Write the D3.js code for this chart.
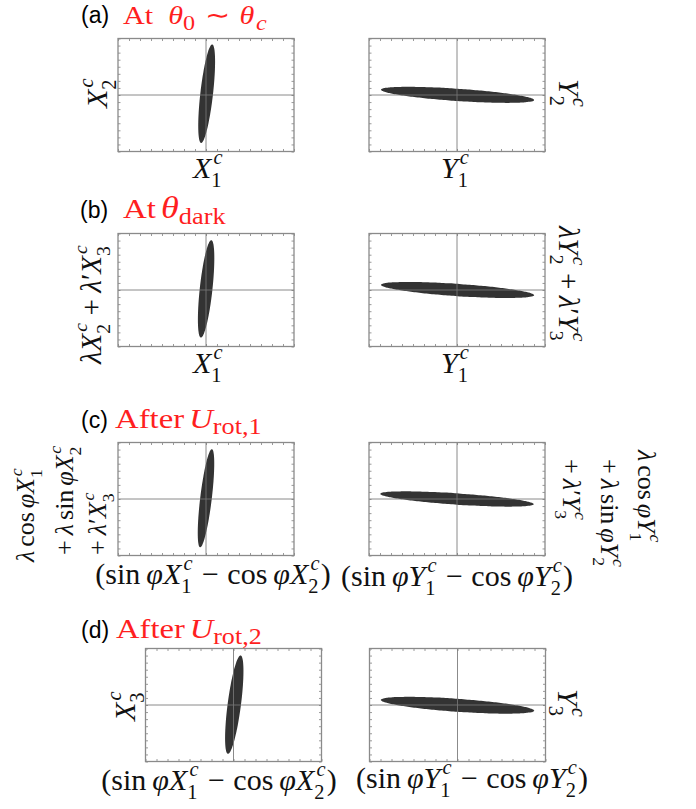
<!DOCTYPE html>
<html>
<head>
<meta charset="utf-8">
<script src="https://cdn.jsdelivr.net/npm/d3@7"></script>
<style>
  body { margin: 0; background: #fff; }
  text { font-family: "Liberation Serif", "Times New Roman", serif; }
</style>
</head>
<body>
<svg id="fig" width="696" height="809"></svg>
<script>
// Quadrature distributions of the cluster modes, four stages (a)–(d),
// X plane on the left and Y plane on the right.
const panelKeys = ["aL", "aR", "bL", "bR", "cL", "cR", "dL", "dR"];
// ellipse centre, tip of the long half-axis (relative to centre) and half-width across it
const ellipseCx = [0.06, 0.05, 0.01, 0.05, 0.00, 0.00, 0.07, 0.00];
const ellipseCy = [0.18, 0.02, 0.16, 0.00, 0.11, 0.00, 0.05, -0.04];
const tipDx     = [0.50, 6.96, 0.47, 6.96, 0.53, 6.97, 0.57, 6.97];
const tipDy     = [6.97, -0.73, 6.90, -0.73, 6.95, -0.73, 6.96, -0.76];
const halfWidth = [0.58, 0.87, 0.58, 0.87, 0.53, 0.80, 0.61, 0.92];
const axisDomain = [-8, 8];
const tickValues = d3.range(-8, 9, 1);

const RED = "#ff1f1f";
const svg = d3.select("#fig");

// ---------- tiny math typesetter: one <text> per label, tspans placed absolutely ----------
const I = (s, k = 1) => ({ t: s, i: true, k });
const R = (s, k = 1) => ({ t: s, k });
const SP = e => ({ sp: e });
const S = (sub, sup, opts = {}) => ({ sub, sup, ...opts });

const probe = svg.append("text").attr("visibility", "hidden");
function measure(str, size, italic) {
  probe.attr("font-size", size).attr("font-style", italic ? "italic" : "normal").text(str);
  return probe.node().getComputedTextLength();
}

function layout(pieces, size) {
  const runs = [];
  let x = 0;
  pieces.forEach(p => {
    if (p.sp !== undefined) { x += p.sp * size; return; }
    if (p.t !== undefined) {
      const sz = size * (p.k || 1);
      runs.push({ s: p.t, x, y: 0, size: sz, italic: !!p.i });
      x += measure(p.t, sz, p.i);
      return;
    }
    const ss = size * (p.scale || 0.68);
    const x0 = x + (p.gap || 0) * size;
    let w = 0;
    if (p.sub) {
      runs.push({ s: p.sub, x: x0, y: p.sup ? 0.3 * size : 0.22 * size, size: ss, italic: !!p.subItalic });
      w = Math.max(w, measure(p.sub, ss, p.subItalic));
    }
    if (p.sup) {
      const dx = 0.07 * size;
      runs.push({ s: p.sup, x: x0 + dx, y: p.sub ? -0.47 * size : -0.42 * size, size: ss, italic: true });
      w = Math.max(w, measure(p.sup, ss, true) + dx);
    }
    x = x0 + w + 0.04 * size;
  });
  return { runs, width: x };
}

// (x, y) is the baseline anchor point; an optional width stretches the run horizontally
function place(pieces, { x, y, size = 30, rotate = 0, anchor = "start", color = "#111", width }) {
  const { runs, width: natural } = layout(pieces, size);
  const sx = width ? width / natural : 1;
  const w = natural * sx;
  const shift = anchor === "middle" ? -w / 2 : anchor === "end" ? -w : 0;
  const t = svg.append("text").attr("fill", color)
    .attr("transform", `translate(${x},${y}) rotate(${rotate}) translate(${shift},0) scale(${sx},1)`);
  runs.forEach(r => t.append("tspan")
    .attr("x", r.x).attr("y", r.y)
    .attr("font-size", r.size).attr("font-style", r.italic ? "italic" : "normal")
    .text(r.s));
  return w;
}

// ---------- panel geometry ----------
const panelBox = {
  aL: [118, 38.5], aR: [369, 38.5],
  bL: [118, 233.5], bR: [369, 233.5],
  cL: [118, 442.5], cR: [369, 442.5],
  dL: [145.5, 648.5], dR: [369.5, 648.5]
};
const PW = 176, PH = 113;

panelKeys.forEach((key, k) => {
  const [x0, y0] = panelBox[key];
  const xs = d3.scaleLinear().domain(axisDomain).range([x0, x0 + PW]);
  const ys = d3.scaleLinear().domain(axisDomain).range([y0 + PH, y0]);
  const g = svg.append("g");

  // frame ticks on all four sides, pointing inward
  const tl = 2.5;
  const tickStyle = s => s.attr("stroke", "#9a9a9a").attr("stroke-width", 1);
  const sides = [
    [d3.axisBottom(xs), `translate(0,${y0 + PH})`],
    [d3.axisTop(xs), `translate(0,${y0})`],
    [d3.axisLeft(ys), `translate(${x0},0)`],
    [d3.axisRight(ys), `translate(${x0 + PW},0)`]
  ];
  sides.forEach(([ax, tr]) => {
    g.append("g").attr("transform", tr)
      .call(ax.tickValues(tickValues).tickSize(-tl).tickFormat(""))
      .call(a => a.select(".domain").remove())
      .selectAll("line").call(tickStyle);
  });

  // ellipse from its two conjugate half-axes
  const vertical = Math.abs(tipDy[k]) > Math.abs(tipDx[k]);
  const wx = vertical ? halfWidth[k] : 0, wy = vertical ? 0 : halfWidth[k];
  const pts = d3.range(0, 360, 3).map(a => {
    const t = a * Math.PI / 180;
    return [xs(ellipseCx[k] + Math.cos(t) * tipDx[k] + Math.sin(t) * wx),
            ys(ellipseCy[k] + Math.cos(t) * tipDy[k] + Math.sin(t) * wy)];
  });
  g.append("path").attr("d", d3.line().curve(d3.curveCardinalClosed)(pts))
    .attr("fill", "#333333");

  // crosshair through the origin
  g.append("line").attr("x1", xs(0)).attr("x2", xs(0)).attr("y1", y0).attr("y2", y0 + PH)
    .attr("stroke", "#777").attr("stroke-opacity", 0.85).attr("stroke-width", 1);
  g.append("line").attr("x1", x0).attr("x2", x0 + PW).attr("y1", ys(0)).attr("y2", ys(0))
    .attr("stroke", "#777").attr("stroke-opacity", 0.85).attr("stroke-width", 1);

  // frame
  g.append("rect").attr("x", x0).attr("y", y0).attr("width", PW).attr("height", PH)
    .attr("fill", "none").attr("stroke", "#8a8a8a").attr("stroke-width", 1.3);
});

// ---------- panel tags and titles ----------
const tags = [["(a)", 81, 23], ["(b)", 80, 218], ["(c)", 81, 428], ["(d)", 81, 638]];
tags.forEach(([t, x, y]) => svg.append("text").attr("x", x).attr("y", y)
  .style("font-family", '"Liberation Sans", Arial, sans-serif').attr("font-size", 23)
  .attr("fill", "#000").text(t));

const TS = 28;
place([R("At"), SP(0.5), I("θ"), S("0", null, { scale: 0.8 }), SP(0.28), R("∼"), SP(0.3),
       I("θ"), S("c", null, { scale: 0.8, subItalic: true, gap: 0.06 })],
      { x: 123, y: 24, size: 26, color: RED, width: 145 });
place([R("At"), SP(0.15), I("θ", 1.1), S("dark", null, { scale: 0.8 })],
      { x: 123, y: 218, size: TS, color: RED, width: 104 });
place([R("After"), SP(0.15), I("U"), S("rot,1", null, { scale: 0.8 })],
      { x: 115, y: 428, size: TS, color: RED, width: 148 });
place([R("After"), SP(0.15), I("U"), S("rot,2", null, { scale: 0.8 })],
      { x: 116, y: 638, size: TS, color: RED, width: 147 });

// ---------- axis labels ----------
const LS = 30;   // single-line axis labels
const MS = 26;   // stacked three-line labels of (c)
const X = n => [I("X"), S(String(n), "c")];
const Y = n => [I("Y"), S(String(n), "c")];
const bin = [SP(0.22)];
const diffLabel = V => [R("("), R("sin"), SP(0.2), I("φ"), ...V(1), SP(0.28), R("−"), SP(0.28),
                        R("cos"), SP(0.2), I("φ"), ...V(2), R(")")];

// (a)
place(X(1), { x: 193, y: 178, size: LS });
place(X(2), { x: 107, y: 108, size: LS, rotate: -90 });
place(Y(1), { x: 441, y: 178, size: LS });
place(Y(2), { x: 559, y: 79, size: LS, rotate: 90 });
// (b)
place(X(1), { x: 193, y: 373, size: LS });
place([I("λ"), ...X(2), ...bin, R("+"), ...bin, I("λ"), R("′"), ...X(3)],
      { x: 101, y: 364, size: 29, rotate: -90 });
place(Y(1), { x: 441, y: 373, size: LS });
place([I("λ"), ...Y(2), ...bin, R("+"), ...bin, I("λ"), R("′"), ...Y(3)],
      { x: 559, y: 226, size: 29, rotate: 90 });
// (c)
place(diffLabel(X), { x: 213, y: 584, size: LS, anchor: "middle" });
place([I("λ"), SP(0.15), R("cos"), SP(0.15), I("φ"), ...X(1)], { x: 34, y: 562, size: MS, rotate: -90 });
place([R("+"), SP(0.2), I("λ"), SP(0.15), R("sin"), SP(0.15), I("φ"), ...X(2)], { x: 73, y: 555, size: MS, rotate: -90 });
place([R("+"), SP(0.2), I("λ"), R("′"), ...X(3)], { x: 106, y: 555, size: MS, rotate: -90 });
place(diffLabel(Y), { x: 457, y: 586, size: LS, anchor: "middle" });
place([I("λ"), SP(0.15), R("cos"), SP(0.15), I("φ"), ...Y(1)], { x: 638, y: 450, size: MS, rotate: 90 });
place([R("+"), SP(0.2), I("λ"), SP(0.15), R("sin"), SP(0.15), I("φ"), ...Y(2)], { x: 601, y: 459, size: MS, rotate: 90 });
place([R("+"), SP(0.2), I("λ"), R("′"), ...Y(3)], { x: 563, y: 459, size: MS, rotate: 90 });
// (d)
place(diffLabel(X), { x: 219, y: 790, size: LS, anchor: "middle" });
place(X(3), { x: 135, y: 721, size: LS, rotate: -90 });
place(diffLabel(Y), { x: 472, y: 788, size: LS, anchor: "middle" });
place(Y(3), { x: 558, y: 689, size: LS, rotate: 90 });
</script>
</body>
</html>
